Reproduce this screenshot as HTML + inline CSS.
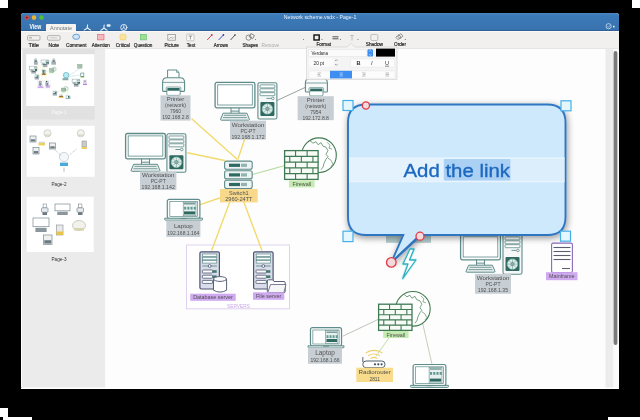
<!DOCTYPE html>
<html><head><meta charset="utf-8">
<style>
html,body{margin:0;padding:0;width:640px;height:420px;overflow:hidden;background:#000;}
svg{position:absolute;left:0;top:0;display:block;will-change:transform;}
text{font-family:"Liberation Sans",sans-serif;}
</style></head>
<body>
<svg width="640" height="420" viewBox="0 0 640 420">
<defs>
  <linearGradient id="tb" x1="0" y1="0" x2="0" y2="1">
    <stop offset="0" stop-color="#4a87c2"/><stop offset="0.15" stop-color="#3b7ab8"/><stop offset="1" stop-color="#3872ad"/>
  </linearGradient>
  <filter id="bshadow" x="-20%" y="-20%" width="140%" height="140%">
    <feGaussianBlur in="SourceAlpha" stdDeviation="3.5"/>
    <feOffset dx="0.5" dy="2"/>
    <feComponentTransfer><feFuncA type="linear" slope="0.42"/></feComponentTransfer>
    <feMerge><feMergeNode/><feMergeNode in="SourceGraphic"/></feMerge>
  </filter>
  <filter id="thumbdark" x="0" y="0" width="100%" height="100%">
    <feComponentTransfer><feFuncR type="gamma" exponent="1.8"/><feFuncG type="gamma" exponent="1.8"/><feFuncB type="gamma" exponent="1.8"/></feComponentTransfer>
  </filter>
</defs>
<!-- background -->
<rect x="0" y="0" width="640" height="420" fill="#000"/>
<rect x="0" y="0" width="8" height="8" fill="#fff"/>
<rect x="632" y="0" width="8" height="8" fill="#fff"/>
<rect x="0" y="408" width="8" height="9" fill="#fff"/>
<rect x="3" y="417" width="29" height="3" fill="#fff"/>
<rect x="608" y="417" width="32" height="3" fill="#fff"/>

<!-- window -->
<rect x="21" y="13" width="598" height="376" rx="3" fill="#fff"/>
<!-- title bar -->
<path d="M21 16 Q21 13 24 13 L616 13 Q619 13 619 16 L619 31 L21 31 Z" fill="url(#tb)"/>
<rect x="21" y="30" width="598" height="1" fill="#2f6297"/>
<!-- toolbar -->
<rect x="21" y="31" width="598" height="18" fill="#f1f0ee"/>
<rect x="21" y="31" width="598" height="1" fill="#fbfaf8"/>
<rect x="21" y="48.5" width="598" height="0.8" fill="#dddcda"/>
<!-- sidebar -->
<rect x="22" y="49" width="83.5" height="339" fill="#ebebeb"/>
<!-- canvas -->
<rect x="105.4" y="49" width="500.6" height="339" fill="#fdfdfd"/>
<rect x="605.5" y="49" width="8" height="339" fill="#ececec"/>
<rect x="613.5" y="49" width="5" height="339" fill="#fafafa"/>
<rect x="613.6" y="51" width="3.8" height="294" rx="1.9" fill="#7a7a7a"/>
<rect x="21" y="387.5" width="598" height="1.5" fill="#fff"/>


<!-- sidebar thumbnails -->
<rect x="22.7" y="49" width="72" height="70.5" fill="#e1e1e1"/>
<rect x="26.3" y="54.3" width="68" height="51.7" fill="#fff"/>
<text x="51.5" y="114.2" font-size="5" fill="#fafafa" textLength="15" lengthAdjust="spacingAndGlyphs">Page-1</text>
<rect x="26.7" y="125.8" width="68" height="51" fill="#fff"/>
<text x="51.5" y="186" font-size="5" fill="#333" textLength="15" lengthAdjust="spacingAndGlyphs">Page-2</text>
<rect x="26.7" y="196.7" width="67" height="55.3" fill="#fff"/>
<text x="51.5" y="260.6" font-size="5" fill="#333" textLength="15" lengthAdjust="spacingAndGlyphs">Page-3</text>
<svg x="26.3" y="54.3" width="68" height="51.7" viewBox="0 0 68 51.7" overflow="hidden"><g filter="url(#thumbdark)"><rect width="68" height="51.7" fill="#fff"/><use href="#diag" transform="translate(-12.74,-4.9) scale(0.127)"/></g></svg>
<rect x="30" y="136" width="6" height="6" fill="#eef0f2" stroke="#7d8a90" stroke-width="0.7"/><rect x="30.80" y="139.30" width="4.40" height="2.10" fill="#6c7a80"/>
<rect x="33" y="147.5" width="6" height="6.5" fill="#eef0f2" stroke="#7d8a90" stroke-width="0.7"/><rect x="33.80" y="151.07" width="4.40" height="2.27" fill="#6c7a80"/>
<rect x="49.5" y="143" width="6" height="6" fill="#eef0f2" stroke="#7d8a90" stroke-width="0.7"/><rect x="50.30" y="146.30" width="4.40" height="2.10" fill="#6c7a80"/>
<rect x="38.5" y="143" width="6.5" height="2.4" fill="#efcf60"/><path d="M38.5 142.3 L45 142.3" stroke="#999" stroke-width="0.5"/>
<circle cx="47.5" cy="133.3" r="3.6" fill="#f2f2ee" stroke="#c4c4bc" stroke-width="0.7"/><path d="M44.98 135.10 L50.02 135.10" stroke="#b8b090" stroke-width="0.6"/>
<circle cx="80.8" cy="133.3" r="3.6" fill="#f2f2ee" stroke="#c4c4bc" stroke-width="0.7"/><path d="M78.28 135.10 L83.32 135.10" stroke="#b8b090" stroke-width="0.6"/>
<rect x="82" y="141" width="4.4" height="6" fill="#c8cccc" stroke="#8a8a8a" stroke-width="0.5"/><rect x="81.5" y="147" width="5.4" height="2" fill="#efcf60"/>
<circle cx="64" cy="157" r="4.6" fill="#f4f6f8" stroke="#b8c4cc" stroke-width="0.7"/><rect x="60" y="162.6" width="8" height="3.4" fill="#4aa8dc"/><path d="M64 167.5 L64 172" stroke="#8a9aa0" stroke-width="0.6"/>
<path d="M55 150 L61 155.5 M76.5 149 L69.5 155" stroke="#8a969c" stroke-width="0.6" stroke-dasharray="1 0.8" fill="none"/>
<rect x="43.12" y="204" width="3.25" height="3.85" fill="#fff" stroke="#7d8a90" stroke-width="0.6"/><rect x="41.5" y="207.85" width="6.5" height="4.40" rx="0.8" fill="#e8ecee" stroke="#7d8a90" stroke-width="0.7"/><rect x="42.48" y="212.25" width="4.55" height="2.75" fill="#6c7a80"/>
<rect x="55" y="204" width="15" height="6.82" fill="#fff" stroke="#7d8a90" stroke-width="0.7"/><rect x="57.25" y="211.70" width="10.50" height="3.30" fill="#8a969c"/>
<rect x="78.62" y="204" width="3.25" height="3.85" fill="#fff" stroke="#7d8a90" stroke-width="0.6"/><rect x="77" y="207.85" width="6.5" height="4.40" rx="0.8" fill="#e8ecee" stroke="#7d8a90" stroke-width="0.7"/><rect x="77.97" y="212.25" width="4.55" height="2.75" fill="#6c7a80"/>
<rect x="33" y="218" width="16" height="8.68" fill="#fff" stroke="#7d8a90" stroke-width="0.7"/><rect x="35.40" y="227.80" width="11.20" height="4.20" fill="#8a969c"/>
<rect x="56.5" y="225" width="6.5" height="10" fill="#e8eaec" stroke="#8a8a8a" stroke-width="0.6"/><rect x="56.5" y="231.5" width="6.5" height="3.5" fill="#e8c448"/>
<ellipse cx="79" cy="225.5" rx="6.5" ry="5" fill="#f2f2ec" stroke="#c0c0b4" stroke-width="0.8"/><rect x="74" y="228" width="10" height="2.5" fill="#d8d4b0"/>
<rect x="43.5" y="235" width="8.5" height="9.5" fill="#eef0f2" stroke="#7d8a90" stroke-width="0.7"/><rect x="44.30" y="240.22" width="6.90" height="3.32" fill="#6c7a80"/>
<!-- traffic lights -->
<circle cx="26.8" cy="17.6" r="2.3" fill="#d8483f"/>
<circle cx="26.8" cy="17.6" r="0.9" fill="#7a1410"/>
<circle cx="34" cy="17.6" r="2.3" fill="#e9b52c"/>
<circle cx="41.6" cy="17.6" r="2.3" fill="#4cbf3c"/>
<!-- tabs -->
<text x="29.6" y="29" font-size="6.6" font-weight="bold" fill="#fff" textLength="11.6" lengthAdjust="spacingAndGlyphs">View</text>
<path d="M46 31 L46 25 Q46 24 47 24 L75 24 Q76 24 76 25 L76 31 Z" fill="#f6f3ee"/>
<text x="50" y="29.6" font-size="5.6" fill="#6f7a86" textLength="22" lengthAdjust="spacingAndGlyphs">Annotate</text>
<!-- acrobat-like icons -->
<g stroke="#e6f0fa" stroke-width="1.1" fill="none" stroke-linecap="round">
  <path d="M87.4 27.6 Q87.2 25.8 87.6 24.9 M87.4 27.6 Q85.6 29.6 84.2 30 M87.4 27.6 Q89.2 29.6 90.6 30"/>
  <path d="M104 27.8 Q103.8 26 104.2 25.1 M104 27.8 Q102.2 29.8 100.8 30.2 M104 27.8 Q105.8 29.8 107.2 30.2"/>
  <circle cx="123.8" cy="27.5" r="3.1" stroke-width="0.9"/>
  <path d="M123.8 27.6 L123.8 25.4 M123.8 27.6 L121.9 29.2 M123.8 27.6 L125.7 29.2" stroke-width="0.8"/>
</g>
<rect x="106.6" y="24.3" width="4" height="2.4" rx="1" fill="#e6f0fa"/>
<text x="283.8" y="19.2" font-size="5.3" fill="#eef4fa" textLength="72.5" lengthAdjust="spacingAndGlyphs">Network scheme.vsdx - Page-1</text>
<circle cx="608.6" cy="26.2" r="2.6" fill="none" stroke="#cfe0f2" stroke-width="0.8"/>
<path d="M607.4 26.5 L608.4 27.4 L610 25.3" fill="none" stroke="#cfe0f2" stroke-width="0.6"/>
<rect x="613" y="25.8" width="1.6" height="1.6" fill="#eef4fa"/>

<!-- toolbar icons -->
<g fill="none" stroke="#9a9a9a" stroke-width="0.7">
  <rect x="27.5" y="35.6" width="12.5" height="4.6" rx="1"/>
  <rect x="47.6" y="35.6" width="12.5" height="4.6" rx="1"/>
</g>
<rect x="29" y="37" width="3" height="1.5" fill="#b8b8b8"/>
<rect x="50" y="37.3" width="7" height="1" fill="#c8c8c8"/>
<ellipse cx="76.2" cy="36.8" rx="3.5" ry="2.6" fill="#cfe5f7" stroke="#4a90d0" stroke-width="0.8"/>
<rect x="97.5" y="34.3" width="6.5" height="5.6" fill="#f2b9c0" stroke="#e06070" stroke-width="0.6"/>
<rect x="120" y="34.3" width="6" height="5.6" rx="1.5" fill="#f9e5a0" stroke="#f0c850" stroke-width="0.6"/>
<rect x="140.3" y="34.3" width="6" height="5.6" fill="#9ee09a" stroke="#5cc060" stroke-width="0.6"/>
<rect x="167.8" y="34.6" width="7.7" height="5.6" fill="#f4f4f4" stroke="#8a8a8a" stroke-width="0.7"/>
<path d="M168.5 39.5 L171 37 L173 38.5 L175 36.5" fill="none" stroke="#8a8a8a" stroke-width="0.6"/>
<rect x="186.7" y="34.2" width="7.3" height="6.6" rx="0.8" fill="#fbfbfb" stroke="#a8a8a8" stroke-width="0.6"/>
<path d="M188.6 36 L192.2 36 M190.4 36 L190.4 39.5" stroke="#707070" stroke-width="0.7"/>
<path d="M207.2 40 L211.8 35" stroke="#d03050" stroke-width="0.9"/><circle cx="211.8" cy="35" r="0.9" fill="#d03050"/>
<path d="M218.6 40 L223.4 35" stroke="#3840c0" stroke-width="0.9"/><circle cx="223.4" cy="35" r="0.9" fill="#3840c0"/>
<path d="M230.5 40 L235 35" stroke="#333" stroke-width="0.8"/><circle cx="235" cy="35" r="0.8" fill="#333"/>
<g fill="none" stroke="#666" stroke-width="0.7">
  <circle cx="248.6" cy="37.6" r="2.6"/>
  <rect x="249.8" y="34.3" width="4" height="3.6" transform="rotate(30 251.8 36.1)"/>
</g>
<g fill="#555">
  <circle cx="255.6" cy="39.6" r="0.5"/><circle cx="303.6" cy="39.6" r="0.5"/><circle cx="322" cy="39.6" r="0.5"/>
  <circle cx="340.5" cy="39.6" r="0.5"/><circle cx="358" cy="39.6" r="0.5"/><circle cx="405.3" cy="39.6" r="0.5"/>
</g>
<rect x="314" y="35" width="5.2" height="5" fill="none" stroke="#111" stroke-width="1.4"/>
<path d="M332.5 36.8 L338.5 36.8 M332.5 38.8 L338.5 38.8" stroke="#555" stroke-width="1"/>
<path d="M350.3 35.5 L353.7 35.5 M352 35.5 L352 40.5" stroke="#b0b0b0" stroke-width="0.8"/>
<rect x="370.8" y="34.5" width="7" height="6" rx="1.2" fill="none" stroke="#a0a0a0" stroke-width="0.6"/>
<g fill="none" stroke="#777" stroke-width="0.7">
  <rect x="396.4" y="35.6" width="4" height="3.2" transform="rotate(-40 398.4 37.2)"/>
  <rect x="398.4" y="34.6" width="4" height="3.2" transform="rotate(-40 400.4 36.2)"/>
</g>
<g font-size="4.9" fill="#1e1e1e" stroke="#1e1e1e" stroke-width="0.18">
  <text x="28.5" y="46.5" textLength="10.5" lengthAdjust="spacingAndGlyphs">Title</text>
  <text x="48.6" y="46.5" textLength="10.5" lengthAdjust="spacingAndGlyphs">Note</text>
  <text x="66" y="46.5" textLength="20.5" lengthAdjust="spacingAndGlyphs">Comment</text>
  <text x="91.8" y="46.5" textLength="18" lengthAdjust="spacingAndGlyphs">Attention</text>
  <text x="115.8" y="46.5" textLength="14" lengthAdjust="spacingAndGlyphs">Critical</text>
  <text x="133.8" y="46.5" textLength="18.5" lengthAdjust="spacingAndGlyphs">Question</text>
  <text x="164.4" y="46.5" textLength="14.6" lengthAdjust="spacingAndGlyphs">Picture</text>
  <text x="186.8" y="46.5" textLength="8.5" lengthAdjust="spacingAndGlyphs">Text</text>
  <text x="213.8" y="46.5" textLength="14.2" lengthAdjust="spacingAndGlyphs">Arrows</text>
  <text x="242.6" y="46.5" textLength="15.4" lengthAdjust="spacingAndGlyphs">Shapes</text>
  <text x="261.5" y="46.5" textLength="17.7" fill="#a8a8a8" stroke="none" lengthAdjust="spacingAndGlyphs">Remove</text>
  <text x="316.5" y="46.3" textLength="14.5" lengthAdjust="spacingAndGlyphs">Format</text>
  <text x="365.8" y="46.3" textLength="17.2" lengthAdjust="spacingAndGlyphs">Shadow</text>
  <text x="394" y="46.3" textLength="12" lengthAdjust="spacingAndGlyphs">Order</text>
</g>


<g id="diag">
<rect x="186.5" y="245" width="103" height="63.8" fill="#fff" stroke="#e0d2ee" stroke-width="1"/>
<g id="lines" fill="none" stroke-linecap="round">
<path d="M192 119 L236.8 159" stroke="#f2da6e" stroke-width="1.4"/>
<path d="M244.5 139.5 L238 159" stroke="#f2da6e" stroke-width="1.4"/>
<path d="M187.5 152.8 L224.5 160.5" stroke="#f2da6e" stroke-width="1.4"/>
<path d="M199.5 204.8 L221 197.5" stroke="#f2da6e" stroke-width="1.4"/>
<path d="M229.6 202.5 L211.8 250" stroke="#f2da6e" stroke-width="1.4"/>
<path d="M244 202.5 L261.8 250" stroke="#f2da6e" stroke-width="1.4"/>
<path d="M252.5 174.5 L284 165.8" stroke="#b8dca0" stroke-width="1.1"/>
<path d="M277 100.5 L305 87.5" stroke="#707a7a" stroke-width="0.7"/>
<path d="M343.2 336 L378 319.5" stroke="#b0b8a8" stroke-width="0.8"/>
<path d="M389 338 L376 356" stroke="#b8dc98" stroke-width="0.9"/>
<path d="M422.5 322.5 L431.8 363.5" stroke="#b8c0a8" stroke-width="0.8"/>
</g>
<g transform="translate(162,69.4)">
<path d="M5.6 9 L5.6 0.6 L14.5 0.6 L17 3 L17 9" fill="#fff" stroke="#5f8c8a" stroke-width="1"/>
<path d="M14.5 0.6 L14.5 3 L17 3" fill="none" stroke="#5f8c8a" stroke-width="0.7"/>
<path d="M0.6 21.2 L0.6 13 Q0.6 8.4 5 8.4 L18 8.4 Q22.6 8.4 22.6 13 L22.6 21.2 Q22.6 22 21.8 22 L1.4 22 Q0.6 22 0.6 21.2 Z" fill="#f7f9f9" stroke="#5f8c8a" stroke-width="1.1"/>
<path d="M0.8 13 L22.4 13" stroke="#5f8c8a" stroke-width="0.8"/>
<rect x="4.2" y="17.6" width="14.6" height="4" rx="1" fill="#eaf2f1" stroke="#5f8c8a" stroke-width="0.7"/>
<rect x="5.4" y="18.6" width="12.2" height="2.6" fill="#2f6a62"/>
<path d="M5 21.5 Q4.2 25.8 5.8 26 L17.2 26 Q18.8 25.8 18 21.5" fill="#fff" stroke="#5f8c8a" stroke-width="0.9"/>
</g>
<rect x="160.5" y="95.4" width="30.00" height="25.20" fill="#c8cfd4"/>
<text x="175.5" y="101.40" font-size="6.0" fill="#505050" text-anchor="middle">Printer</text>
<text x="175.5" y="107.40" font-size="5.0" fill="#505050" text-anchor="middle">(network)</text>
<text x="175.5" y="113.40" font-size="5.0" fill="#505050" text-anchor="middle">7960</text>
<text x="175.5" y="119.40" font-size="5.0" fill="#505050" text-anchor="middle">192.168.2.8</text>
<g transform="translate(214.5,81.8)">
<rect x="0.6" y="0.6" width="39.8" height="25.4" rx="1.8" fill="#fbfcfc" stroke="#5f8c8a" stroke-width="1.3"/>
<rect x="3.2" y="3" width="34.6" height="20.2" fill="#fff" stroke="#5f8c8a" stroke-width="0.8"/>
<path d="M16.5 26 L16.5 31.2 M24.5 26 L24.5 31.2" stroke="#5f8c8a" stroke-width="1"/>
<rect x="16.5" y="28.8" width="8" height="1" fill="#5f8c8a"/>
<path d="M8.6 31.4 L32.4 31.4 L35 37.6 Q35 38.4 34 38.4 L7 38.4 Q6 38.4 6 37.6 Z" fill="#e8eeee" stroke="#5f8c8a" stroke-width="1"/>
<path d="M9.5 33.5 L31.5 33.5 M8.5 35.8 L32.5 35.8" stroke="#5f8c8a" stroke-width="0.8"/>
<rect x="43.4" y="0.9" width="19" height="36.3" rx="1.6" fill="#f6f8f8" stroke="#5f8c8a" stroke-width="1.1"/>
<rect x="45.5" y="3.10" width="14.8" height="3" rx="0.6" fill="#fff" stroke="#5f8c8a" stroke-width="0.8"/>
<rect x="45.5" y="7.00" width="14.8" height="3" rx="0.6" fill="#fff" stroke="#5f8c8a" stroke-width="0.8"/>
<rect x="45.5" y="10.90" width="14.8" height="3" rx="0.6" fill="#fff" stroke="#5f8c8a" stroke-width="0.8"/>
<path d="M51.9 16.6 L56.9 16.6" stroke="#5f8c8a" stroke-width="0.9"/>
<circle cx="58.3" cy="16.6" r="1.3" fill="none" stroke="#5f8c8a" stroke-width="0.8"/>
<rect x="45.9" y="20.099999999999998" width="14" height="14" rx="1" fill="#2f6a62"/>
<circle cx="52.9" cy="27.099999999999998" r="5.2" fill="#dfeeea" stroke="#9cc4bc" stroke-width="0.6"/>
<circle cx="52.9" cy="27.099999999999998" r="1.6" fill="#fff" stroke="#2f6a62" stroke-width="0.6"/>
<path d="M52.9 22.099999999999998 L52.9 32.099999999999994 M47.9 27.099999999999998 L57.9 27.099999999999998 M49.4 23.599999999999998 L56.4 30.599999999999998 M56.4 23.599999999999998 L49.4 30.599999999999998" stroke="#2f6a62" stroke-width="0.5" opacity="0.7"/>
</g>
<rect x="230" y="120.7" width="36.00" height="18.90" fill="#c8cfd4"/>
<text x="248.0" y="126.60" font-size="6.2" fill="#505050" text-anchor="middle">Workstation</text>
<text x="248.0" y="132.60" font-size="5.0" fill="#505050" text-anchor="middle">PC-PT</text>
<text x="248.0" y="138.60" font-size="5.2" fill="#505050" text-anchor="middle">192.168.1.172</text>
<g transform="translate(304.8,70)">
<path d="M5.6 9 L5.6 0.6 L14.5 0.6 L17 3 L17 9" fill="#fff" stroke="#5f8c8a" stroke-width="1"/>
<path d="M14.5 0.6 L14.5 3 L17 3" fill="none" stroke="#5f8c8a" stroke-width="0.7"/>
<path d="M0.6 21.2 L0.6 13 Q0.6 8.4 5 8.4 L18 8.4 Q22.6 8.4 22.6 13 L22.6 21.2 Q22.6 22 21.8 22 L1.4 22 Q0.6 22 0.6 21.2 Z" fill="#f7f9f9" stroke="#5f8c8a" stroke-width="1.1"/>
<path d="M0.8 13 L22.4 13" stroke="#5f8c8a" stroke-width="0.8"/>
<rect x="4.2" y="17.6" width="14.6" height="4" rx="1" fill="#eaf2f1" stroke="#5f8c8a" stroke-width="0.7"/>
<rect x="5.4" y="18.6" width="12.2" height="2.6" fill="#2f6a62"/>
<path d="M5 21.5 Q4.2 25.8 5.8 26 L17.2 26 Q18.8 25.8 18 21.5" fill="#fff" stroke="#5f8c8a" stroke-width="0.9"/>
</g>
<rect x="297.6" y="96.2" width="36.20" height="24.00" fill="#c8cfd4"/>
<text x="315.70000000000005" y="102.00" font-size="6.0" fill="#505050" text-anchor="middle">Printer</text>
<text x="315.70000000000005" y="108.00" font-size="5.0" fill="#505050" text-anchor="middle">(network)</text>
<text x="315.70000000000005" y="114.00" font-size="5.0" fill="#505050" text-anchor="middle">7954</text>
<text x="315.70000000000005" y="120.00" font-size="5.0" fill="#505050" text-anchor="middle">192.172.8.8</text>
<g transform="translate(125,132.9)">
<rect x="0.6" y="0.6" width="39.8" height="25.4" rx="1.8" fill="#fbfcfc" stroke="#5f8c8a" stroke-width="1.3"/>
<rect x="3.2" y="3" width="34.6" height="20.2" fill="#fff" stroke="#5f8c8a" stroke-width="0.8"/>
<path d="M16.5 26 L16.5 31.2 M24.5 26 L24.5 31.2" stroke="#5f8c8a" stroke-width="1"/>
<rect x="16.5" y="28.8" width="8" height="1" fill="#5f8c8a"/>
<path d="M8.6 31.4 L32.4 31.4 L35 37.6 Q35 38.4 34 38.4 L7 38.4 Q6 38.4 6 37.6 Z" fill="#e8eeee" stroke="#5f8c8a" stroke-width="1"/>
<path d="M9.5 33.5 L31.5 33.5 M8.5 35.8 L32.5 35.8" stroke="#5f8c8a" stroke-width="0.8"/>
<rect x="41.9" y="0.9" width="19" height="38.5" rx="1.6" fill="#f6f8f8" stroke="#5f8c8a" stroke-width="1.1"/>
<rect x="44.0" y="3.10" width="14.8" height="3" rx="0.6" fill="#fff" stroke="#5f8c8a" stroke-width="0.8"/>
<rect x="44.0" y="7.00" width="14.8" height="3" rx="0.6" fill="#fff" stroke="#5f8c8a" stroke-width="0.8"/>
<rect x="44.0" y="10.90" width="14.8" height="3" rx="0.6" fill="#fff" stroke="#5f8c8a" stroke-width="0.8"/>
<path d="M50.4 16.6 L55.4 16.6" stroke="#5f8c8a" stroke-width="0.9"/>
<circle cx="56.8" cy="16.6" r="1.3" fill="none" stroke="#5f8c8a" stroke-width="0.8"/>
<rect x="44.4" y="22.3" width="14" height="14" rx="1" fill="#2f6a62"/>
<circle cx="51.4" cy="29.3" r="5.2" fill="#dfeeea" stroke="#9cc4bc" stroke-width="0.6"/>
<circle cx="51.4" cy="29.3" r="1.6" fill="#fff" stroke="#2f6a62" stroke-width="0.6"/>
<path d="M51.4 24.3 L51.4 34.3 M46.4 29.3 L56.4 29.3 M47.9 25.8 L54.9 32.8 M54.9 25.8 L47.9 32.8" stroke="#2f6a62" stroke-width="0.5" opacity="0.7"/>
</g>
<rect x="140" y="171.4" width="36.40" height="18.60" fill="#c8cfd4"/>
<text x="158.2" y="177.20" font-size="6.2" fill="#505050" text-anchor="middle">Workstation</text>
<text x="158.2" y="183.20" font-size="5.0" fill="#505050" text-anchor="middle">PC-PT</text>
<text x="158.2" y="189.20" font-size="5.2" fill="#505050" text-anchor="middle">192.168.1.142</text>
<g transform="translate(164.2,198.6)">
<rect x="3.10" y="0.7" width="32.59" height="19.20" rx="2" fill="#fbfcfc" stroke="#5f8c8a" stroke-width="1.2"/>
<rect x="5.63" y="3" width="27.55" height="14.80" fill="#fff" stroke="#5f8c8a" stroke-width="0.7"/>
<rect x="19.01" y="3.6" width="12.80" height="13.60" fill="#e8f0ef" stroke="#5f8c8a" stroke-width="0.6"/>
<rect x="19.81" y="4.6" width="11.20" height="1.2" fill="#5f8c8a"/>
<rect x="19.91" y="8.2" width="2.10" height="2.8" fill="#5f9a92"/>
<rect x="23.11" y="8.2" width="2.10" height="2.8" fill="#5f9a92"/>
<rect x="26.31" y="8.2" width="2.10" height="2.8" fill="#5f9a92"/>
<rect x="29.51" y="8.2" width="2.10" height="2.8" fill="#5f9a92"/>
<rect x="19.81" y="12.80" width="11.20" height="3" fill="#2f6a62"/>
<path d="M0.5 19.60 L38.30 19.60 L38.30 20.80 Q38.30 21.60 37.30 21.60 L1.5 21.60 Q0.5 21.60 0.5 20.80 Z" fill="#e4ecec" stroke="#5f8c8a" stroke-width="1"/>
<rect x="16.30" y="19.40" width="6.21" height="1" fill="#5f8c8a"/>
</g>
<rect x="166.3" y="220.6" width="34.10" height="16.40" fill="#c8cfd4"/>
<text x="183.35000000000002" y="227.60" font-size="6.2" fill="#505050" text-anchor="middle">Laptop</text>
<text x="183.35000000000002" y="234.60" font-size="5.0" fill="#505050" text-anchor="middle">192.168.1.164</text>
<g transform="translate(224,160.5)">
<rect x="0.6" y="0.60" width="27.6" height="8.2" rx="2" fill="#eef3f3" stroke="#5f8c8a" stroke-width="1.1"/>
<rect x="5" y="3.20" width="11" height="3.2" fill="#2f6a62"/>
<rect x="17" y="3.20" width="6" height="3.2" fill="#8fb5b0"/>
<rect x="0.6" y="10.20" width="27.6" height="8.2" rx="2" fill="#eef3f3" stroke="#5f8c8a" stroke-width="1.1"/>
<rect x="5" y="12.80" width="11" height="3.2" fill="#2f6a62"/>
<rect x="17" y="12.80" width="6" height="3.2" fill="#8fb5b0"/>
<rect x="0.6" y="19.80" width="27.6" height="8.2" rx="2" fill="#eef3f3" stroke="#5f8c8a" stroke-width="1.1"/>
<rect x="5" y="22.40" width="11" height="3.2" fill="#2f6a62"/>
<rect x="17" y="22.40" width="6" height="3.2" fill="#8fb5b0"/>
</g>
<rect x="220" y="189" width="37.70" height="13.40" fill="#f8d98c"/>
<text x="238.85" y="194.80" font-size="5.6" fill="#505050" text-anchor="middle">Switch1</text>
<text x="238.85" y="200.80" font-size="5.6" fill="#505050" text-anchor="middle">2960-24TT</text>
<g transform="translate(284,150)">
<circle cx="35.0" cy="5.2" r="17.3" fill="#fff" stroke="#3f7a4e" stroke-width="1.1"/>
<path d="M26.0 -9.3 L29.0 -6.8 L32.0 -8.3 L34.0 -5.3 L37.0 -7.3 L39.0 -3.8 L42.0 -2.8 L44.0 0.7 L42.0 4.2 L44.0 6.7 L42.0 9.2 L40.0 13.2 L39.0 17.2 L37.0 19.7" fill="none" stroke="#3f7a4e" stroke-width="0.7"/>
<path d="M43.0 -7.8 L46.0 -4.8 L45.0 -1.8 L48.0 -0.8" fill="none" stroke="#3f7a4e" stroke-width="0.6"/>
<path d="M44.0 8.2 L47.0 10.2 L49.0 14.2 L47.0 16.2" fill="none" stroke="#3f7a4e" stroke-width="0.6"/>
<rect x="0.6" y="0.6" width="33.5" height="28.8" fill="#f7fbf6" stroke="#3f7a55" stroke-width="1.3"/>
<path d="M0.6 6.36 L34.1 6.36" stroke="#3f7a55" stroke-width="1.1"/>
<path d="M0.6 12.12 L34.1 12.12" stroke="#3f7a55" stroke-width="1.1"/>
<path d="M0.6 17.88 L34.1 17.88" stroke="#3f7a55" stroke-width="1.1"/>
<path d="M0.6 23.64 L34.1 23.64" stroke="#3f7a55" stroke-width="1.1"/>
<path d="M11.57 0.60 L11.57 6.36" stroke="#3f7a55" stroke-width="1.1"/>
<path d="M23.13 0.60 L23.13 6.36" stroke="#3f7a55" stroke-width="1.1"/>
<path d="M5.78 6.36 L5.78 12.12" stroke="#3f7a55" stroke-width="1.1"/>
<path d="M17.35 6.36 L17.35 12.12" stroke="#3f7a55" stroke-width="1.1"/>
<path d="M28.92 6.36 L28.92 12.12" stroke="#3f7a55" stroke-width="1.1"/>
<path d="M11.57 12.12 L11.57 17.88" stroke="#3f7a55" stroke-width="1.1"/>
<path d="M23.13 12.12 L23.13 17.88" stroke="#3f7a55" stroke-width="1.1"/>
<path d="M5.78 17.88 L5.78 23.64" stroke="#3f7a55" stroke-width="1.1"/>
<path d="M17.35 17.88 L17.35 23.64" stroke="#3f7a55" stroke-width="1.1"/>
<path d="M28.92 17.88 L28.92 23.64" stroke="#3f7a55" stroke-width="1.1"/>
<path d="M11.57 23.64 L11.57 29.40" stroke="#3f7a55" stroke-width="1.1"/>
<path d="M23.13 23.64 L23.13 29.40" stroke="#3f7a55" stroke-width="1.1"/>
</g>
<rect x="289" y="180.4" width="25.60" height="7.00" fill="#c4ecb0"/>
<text x="301.8" y="186.00" font-size="5.4" fill="#505050" text-anchor="middle">Firewall</text>
<g transform="translate(199.3,251.2)">
<rect x="0.6" y="0.6" width="19.5" height="37.199999999999996" rx="1.5" fill="#d9dde9" stroke="#4e5472" stroke-width="1.2"/>
<rect x="3.2" y="2.80" width="14.30" height="2.5" fill="#fafcfc" stroke="#5f8c8a" stroke-width="0.7"/>
<rect x="3.2" y="6.10" width="14.30" height="2.5" fill="#fafcfc" stroke="#5f8c8a" stroke-width="0.7"/>
<rect x="3.2" y="9.40" width="14.30" height="2.5" fill="#fafcfc" stroke="#5f8c8a" stroke-width="0.7"/>
<path d="M3 14.8 L17.7 14.8" stroke="#5f8c8a" stroke-width="0.9"/><circle cx="10.35" cy="14.8" r="1.4" fill="#fff" stroke="#4e5472" stroke-width="0.8"/>
<rect x="3" y="18.8" width="10.35" height="3" rx="0.8" fill="#fff" stroke="#4e5472" stroke-width="0.8"/>
<rect x="13.25" y="19.0" width="4.14" height="2.6" fill="#3f7a70"/>
<rect x="3" y="24.0" width="10.35" height="3" rx="0.8" fill="#fff" stroke="#4e5472" stroke-width="0.8"/>
<rect x="13.25" y="24.2" width="4.14" height="2.6" fill="#3f7a70"/>
<rect x="3" y="29.200000000000003" width="10.35" height="3" rx="0.8" fill="#fff" stroke="#4e5472" stroke-width="0.8"/>
<rect x="13.25" y="29.400000000000002" width="4.14" height="2.6" fill="#3f7a70"/>
</g>
<path d="M213.5 279 L213.5 290.2 Q220 294 226.6 290.2 L226.6 279" fill="#fff" stroke="#5c6078" stroke-width="1"/>
<ellipse cx="220" cy="279" rx="6.5" ry="2.4" fill="#fff" stroke="#5c6078" stroke-width="1"/>
<g transform="translate(253,251.2)">
<rect x="0.6" y="0.6" width="19.5" height="37.199999999999996" rx="1.5" fill="#d9dde9" stroke="#4e5472" stroke-width="1.2"/>
<rect x="3.2" y="2.80" width="14.30" height="2.5" fill="#fafcfc" stroke="#5f8c8a" stroke-width="0.7"/>
<rect x="3.2" y="6.10" width="14.30" height="2.5" fill="#fafcfc" stroke="#5f8c8a" stroke-width="0.7"/>
<rect x="3.2" y="9.40" width="14.30" height="2.5" fill="#fafcfc" stroke="#5f8c8a" stroke-width="0.7"/>
<path d="M3 14.8 L17.7 14.8" stroke="#5f8c8a" stroke-width="0.9"/><circle cx="10.35" cy="14.8" r="1.4" fill="#fff" stroke="#4e5472" stroke-width="0.8"/>
<rect x="3" y="18.8" width="10.35" height="3" rx="0.8" fill="#fff" stroke="#4e5472" stroke-width="0.8"/>
<rect x="13.25" y="19.0" width="4.14" height="2.6" fill="#3f7a70"/>
<rect x="3" y="24.0" width="10.35" height="3" rx="0.8" fill="#fff" stroke="#4e5472" stroke-width="0.8"/>
<rect x="13.25" y="24.2" width="4.14" height="2.6" fill="#3f7a70"/>
<rect x="3" y="29.200000000000003" width="10.35" height="3" rx="0.8" fill="#fff" stroke="#4e5472" stroke-width="0.8"/>
<rect x="13.25" y="29.400000000000002" width="4.14" height="2.6" fill="#3f7a70"/>
</g>
<path d="M267.3 283 L267.3 281 Q267.3 279.8 268.5 279.8 L272.5 279.8 L274 281.5 L284 281.5 Q285.2 281.5 285.2 282.8 L285.2 291.6 Q285.2 292.7 284 292.7 L268.5 292.7 Q267.3 292.7 267.3 291.6 Z" fill="#fff" stroke="#5c6078" stroke-width="1"/>
<path d="M268 292 L270.5 284.5 L286 284.5 L284 292" fill="#f4f6f8" stroke="#5c6078" stroke-width="0.8"/>
<rect x="190.2" y="293.7" width="45.50" height="7.10" fill="#d0aaf0"/>
<text x="212.95" y="299.40" font-size="5.4" fill="#505050" text-anchor="middle">Database server</text>
<rect x="253" y="292.3" width="31.30" height="7.50" fill="#d0aaf0"/>
<text x="268.65" y="298.20" font-size="5.4" fill="#505050" text-anchor="middle">File server</text>
<text x="238.5" y="308" font-size="4.8" fill="#c8a8e8" text-anchor="middle">SERVERS</text>
<g transform="translate(460,233.8)">
<rect x="0.6" y="0.6" width="39.8" height="25.4" rx="1.8" fill="#fbfcfc" stroke="#5f8c8a" stroke-width="1.3"/>
<rect x="3.2" y="3" width="34.6" height="20.2" fill="#fff" stroke="#5f8c8a" stroke-width="0.8"/>
<path d="M16.5 26 L16.5 31.2 M24.5 26 L24.5 31.2" stroke="#5f8c8a" stroke-width="1"/>
<rect x="16.5" y="28.8" width="8" height="1" fill="#5f8c8a"/>
<path d="M8.6 31.4 L32.4 31.4 L35 37.6 Q35 38.4 34 38.4 L7 38.4 Q6 38.4 6 37.6 Z" fill="#e8eeee" stroke="#5f8c8a" stroke-width="1"/>
<path d="M9.5 33.5 L31.5 33.5 M8.5 35.8 L32.5 35.8" stroke="#5f8c8a" stroke-width="0.8"/>
<rect x="43.0" y="0.9" width="19" height="39.5" rx="1.6" fill="#f6f8f8" stroke="#5f8c8a" stroke-width="1.1"/>
<rect x="45.1" y="3.10" width="14.8" height="3" rx="0.6" fill="#fff" stroke="#5f8c8a" stroke-width="0.8"/>
<rect x="45.1" y="7.00" width="14.8" height="3" rx="0.6" fill="#fff" stroke="#5f8c8a" stroke-width="0.8"/>
<rect x="45.1" y="10.90" width="14.8" height="3" rx="0.6" fill="#fff" stroke="#5f8c8a" stroke-width="0.8"/>
<path d="M51.5 16.6 L56.5 16.6" stroke="#5f8c8a" stroke-width="0.9"/>
<circle cx="57.9" cy="16.6" r="1.3" fill="none" stroke="#5f8c8a" stroke-width="0.8"/>
<rect x="45.5" y="23.3" width="14" height="14" rx="1" fill="#2f6a62"/>
<circle cx="52.5" cy="30.3" r="5.2" fill="#dfeeea" stroke="#9cc4bc" stroke-width="0.6"/>
<circle cx="52.5" cy="30.3" r="1.6" fill="#fff" stroke="#2f6a62" stroke-width="0.6"/>
<path d="M52.5 25.3 L52.5 35.3 M47.5 30.3 L57.5 30.3 M49.0 26.8 L56.0 33.8 M56.0 26.8 L49.0 33.8" stroke="#2f6a62" stroke-width="0.5" opacity="0.7"/>
</g>
<rect x="475" y="273.8" width="36.00" height="20.00" fill="#c8cfd4"/>
<text x="493.0" y="279.80" font-size="6.2" fill="#505050" text-anchor="middle">Workstation</text>
<text x="493.0" y="285.80" font-size="5.0" fill="#505050" text-anchor="middle">PC-PT</text>
<text x="493.0" y="291.80" font-size="5.2" fill="#505050" text-anchor="middle">192.168.1.35</text>
<g transform="translate(551,242.5)">
<rect x="0.6" y="0.6" width="20.8" height="29.4" rx="1.5" fill="#fff" stroke="#8a68b8" stroke-width="1.1"/>
<path d="M2.5 5 L19.5 5" stroke="#5c5c70" stroke-width="1.1"/>
<path d="M2.5 9 L19.5 9" stroke="#5c5c70" stroke-width="1.1"/>
<path d="M2.5 13 L19.5 13" stroke="#5c5c70" stroke-width="1.1"/>
<path d="M2.5 17 L19.5 17" stroke="#5c5c70" stroke-width="1.1"/>
<path d="M11 26 L19 26" stroke="#5c5c70" stroke-width="1"/>
</g>
<rect x="546" y="272.2" width="31.50" height="8.00" fill="#d0aaf0"/>
<text x="561.75" y="278.40" font-size="5.4" fill="#505050" text-anchor="middle">Mainframe</text>
<g transform="translate(378,303.6)">
<circle cx="34.9" cy="5.2" r="17.3" fill="#fff" stroke="#3f7a4e" stroke-width="1.1"/>
<path d="M25.9 -9.3 L28.9 -6.8 L31.9 -8.3 L33.9 -5.3 L36.9 -7.3 L38.9 -3.8 L41.9 -2.8 L43.9 0.7 L41.9 4.2 L43.9 6.7 L41.9 9.2 L39.9 13.2 L38.9 17.2 L36.9 19.7" fill="none" stroke="#3f7a4e" stroke-width="0.7"/>
<path d="M42.9 -7.8 L45.9 -4.8 L44.9 -1.8 L47.9 -0.8" fill="none" stroke="#3f7a4e" stroke-width="0.6"/>
<path d="M43.9 8.2 L46.9 10.2 L48.9 14.2 L46.9 16.2" fill="none" stroke="#3f7a4e" stroke-width="0.6"/>
<rect x="0.6" y="0.6" width="33.4" height="26.2" fill="#f7fbf6" stroke="#3f7a55" stroke-width="1.3"/>
<path d="M0.6 5.84 L34.0 5.84" stroke="#3f7a55" stroke-width="1.1"/>
<path d="M0.6 11.08 L34.0 11.08" stroke="#3f7a55" stroke-width="1.1"/>
<path d="M0.6 16.32 L34.0 16.32" stroke="#3f7a55" stroke-width="1.1"/>
<path d="M0.6 21.56 L34.0 21.56" stroke="#3f7a55" stroke-width="1.1"/>
<path d="M11.53 0.60 L11.53 5.84" stroke="#3f7a55" stroke-width="1.1"/>
<path d="M23.07 0.60 L23.07 5.84" stroke="#3f7a55" stroke-width="1.1"/>
<path d="M5.77 5.84 L5.77 11.08" stroke="#3f7a55" stroke-width="1.1"/>
<path d="M17.30 5.84 L17.30 11.08" stroke="#3f7a55" stroke-width="1.1"/>
<path d="M28.83 5.84 L28.83 11.08" stroke="#3f7a55" stroke-width="1.1"/>
<path d="M11.53 11.08 L11.53 16.32" stroke="#3f7a55" stroke-width="1.1"/>
<path d="M23.07 11.08 L23.07 16.32" stroke="#3f7a55" stroke-width="1.1"/>
<path d="M5.77 16.32 L5.77 21.56" stroke="#3f7a55" stroke-width="1.1"/>
<path d="M17.30 16.32 L17.30 21.56" stroke="#3f7a55" stroke-width="1.1"/>
<path d="M28.83 16.32 L28.83 21.56" stroke="#3f7a55" stroke-width="1.1"/>
<path d="M11.53 21.56 L11.53 26.80" stroke="#3f7a55" stroke-width="1.1"/>
<path d="M23.07 21.56 L23.07 26.80" stroke="#3f7a55" stroke-width="1.1"/>
</g>
<rect x="383.2" y="331" width="25.40" height="7.00" fill="#c4ecb0"/>
<text x="395.9" y="336.60" font-size="5.4" fill="#505050" text-anchor="middle">Firewall</text>
<g transform="translate(307.5,327)">
<rect x="2.96" y="0.7" width="31.08" height="18.40" rx="2" fill="#fbfcfc" stroke="#5f8c8a" stroke-width="1.2"/>
<rect x="5.36" y="3" width="26.27" height="14.00" fill="#fff" stroke="#5f8c8a" stroke-width="0.7"/>
<rect x="18.13" y="3.6" width="12.21" height="12.80" fill="#e8f0ef" stroke="#5f8c8a" stroke-width="0.6"/>
<rect x="18.93" y="4.6" width="10.61" height="1.2" fill="#5f8c8a"/>
<rect x="19.03" y="8.2" width="1.95" height="2.8" fill="#5f9a92"/>
<rect x="22.08" y="8.2" width="1.95" height="2.8" fill="#5f9a92"/>
<rect x="25.13" y="8.2" width="1.95" height="2.8" fill="#5f9a92"/>
<rect x="28.19" y="8.2" width="1.95" height="2.8" fill="#5f9a92"/>
<rect x="18.93" y="12.00" width="10.61" height="3" fill="#2f6a62"/>
<path d="M0.5 18.80 L36.50 18.80 L36.50 20.00 Q36.50 20.80 35.50 20.80 L1.5 20.80 Q0.5 20.80 0.5 20.00 Z" fill="#e4ecec" stroke="#5f8c8a" stroke-width="1"/>
<rect x="15.54" y="18.60" width="5.92" height="1" fill="#5f8c8a"/>
</g>
<rect x="308" y="347.5" width="34.00" height="16.30" fill="#c8cfd4"/>
<text x="325.0" y="354.60" font-size="6.4" fill="#505050" text-anchor="middle">Laptop</text>
<text x="325.0" y="361.60" font-size="5.0" fill="#505050" text-anchor="middle">192.168.1.66</text>
<g fill="none" stroke="#f2cf70" stroke-width="1.1" stroke-linecap="round">
<path d="M366 352.8 Q374 348 382 352.8"/><path d="M368.5 355.6 Q374 352.5 379.5 355.6"/><path d="M371 358.2 Q374 356.5 377 358.2"/>
</g>
<path d="M362.8 357 L362.8 362" stroke="#606870" stroke-width="1"/>
<rect x="362.8" y="361" width="22.2" height="6.7" rx="3.3" fill="#fff" stroke="#4f6068" stroke-width="1"/>
<circle cx="375" cy="364.3" r="1.1" fill="#3a5058"/><circle cx="378.3" cy="364.3" r="1.1" fill="#3a5058"/><circle cx="381.6" cy="364.3" r="1.1" fill="#3a5058"/>
<rect x="356.3" y="367.7" width="36.70" height="14.30" fill="#f8dc8c"/>
<text x="374.65" y="374.40" font-size="6.2" fill="#505050" text-anchor="middle">Radiorouter</text>
<text x="374.65" y="380.70" font-size="4.8" fill="#505050" text-anchor="middle">2811</text>
<g transform="translate(410,363.8)">
<rect x="3.12" y="0.7" width="32.76" height="21.20" rx="2" fill="#fbfcfc" stroke="#5f8c8a" stroke-width="1.2"/>
<rect x="5.65" y="3" width="27.69" height="16.80" fill="#fff" stroke="#5f8c8a" stroke-width="0.7"/>
<rect x="19.11" y="3.6" width="12.87" height="15.60" fill="#e8f0ef" stroke="#5f8c8a" stroke-width="0.6"/>
<rect x="19.91" y="4.6" width="11.27" height="1.2" fill="#5f8c8a"/>
<rect x="20.01" y="8.2" width="2.12" height="2.8" fill="#5f9a92"/>
<rect x="23.23" y="8.2" width="2.12" height="2.8" fill="#5f9a92"/>
<rect x="26.44" y="8.2" width="2.12" height="2.8" fill="#5f9a92"/>
<rect x="29.66" y="8.2" width="2.12" height="2.8" fill="#5f9a92"/>
<rect x="19.91" y="14.80" width="11.27" height="3" fill="#2f6a62"/>
<path d="M0.5 21.60 L38.50 21.60 L38.50 22.80 Q38.50 23.60 37.50 23.60 L1.5 23.60 Q0.5 23.60 0.5 22.80 Z" fill="#e4ecec" stroke="#5f8c8a" stroke-width="1"/>
<rect x="16.38" y="21.40" width="6.24" height="1" fill="#5f8c8a"/>
</g>
<path d="M430 210 L520 150 M440 215 L535 200" stroke="#b0d8d8" stroke-width="2" fill="none"/>
<circle cx="414" cy="203" r="22" fill="#d8f2f6" stroke="#50b8c8" stroke-width="3"/>
<rect x="386" y="226" width="45" height="16.8" fill="#b4cccc"/>
<g transform="translate(505,118)">
<rect x="0.6" y="0.6" width="33.5" height="28.8" fill="#f7fbf6" stroke="#3f7a55" stroke-width="1.3"/>
<path d="M0.6 6.36 L34.1 6.36" stroke="#3f7a55" stroke-width="1.1"/>
<path d="M0.6 12.12 L34.1 12.12" stroke="#3f7a55" stroke-width="1.1"/>
<path d="M0.6 17.88 L34.1 17.88" stroke="#3f7a55" stroke-width="1.1"/>
<path d="M0.6 23.64 L34.1 23.64" stroke="#3f7a55" stroke-width="1.1"/>
<path d="M11.57 0.60 L11.57 6.36" stroke="#3f7a55" stroke-width="1.1"/>
<path d="M23.13 0.60 L23.13 6.36" stroke="#3f7a55" stroke-width="1.1"/>
<path d="M5.78 6.36 L5.78 12.12" stroke="#3f7a55" stroke-width="1.1"/>
<path d="M17.35 6.36 L17.35 12.12" stroke="#3f7a55" stroke-width="1.1"/>
<path d="M28.92 6.36 L28.92 12.12" stroke="#3f7a55" stroke-width="1.1"/>
<path d="M11.57 12.12 L11.57 17.88" stroke="#3f7a55" stroke-width="1.1"/>
<path d="M23.13 12.12 L23.13 17.88" stroke="#3f7a55" stroke-width="1.1"/>
<path d="M5.78 17.88 L5.78 23.64" stroke="#3f7a55" stroke-width="1.1"/>
<path d="M17.35 17.88 L17.35 23.64" stroke="#3f7a55" stroke-width="1.1"/>
<path d="M28.92 17.88 L28.92 23.64" stroke="#3f7a55" stroke-width="1.1"/>
<path d="M11.57 23.64 L11.57 29.40" stroke="#3f7a55" stroke-width="1.1"/>
<path d="M23.13 23.64 L23.13 29.40" stroke="#3f7a55" stroke-width="1.1"/>
</g>
<rect x="530" y="186" width="24" height="26" fill="#fff" stroke="#5f8c8a" stroke-width="3"/>
<rect x="528" y="212" width="28" height="8" fill="#9bbf70"/>
</g>

<g filter="url(#bshadow)">
<path d="M366 104.5 L547.5 104.5 Q565.5 104.5 565.5 122.5 L565.5 217 Q565.5 235 547.5 235 L420 235 L391.3 262.4 L403.3 235 L366 235 Q348 235 348 217 L348 122.5 Q348 104.5 366 104.5 Z" fill="#cee9fc" stroke="#2f76c2" stroke-width="1.9"/>
</g>
<rect x="349" y="158" width="215.5" height="23.5" fill="#dcedfc"/>
<rect x="349" y="159" width="95" height="21.5" fill="#e4f2fd"/>
<path d="M349 158.2 L564.5 158.2 M349 181.5 L564.5 181.5" stroke="#e9f5fe" stroke-width="1.4"/>
<rect x="443.8" y="159.1" width="66.6" height="21.4" fill="#aad0f4"/>
<text x="403.5" y="177.4" font-size="18.8" fill="#1d68c0" stroke="#1d68c0" stroke-width="0.35" textLength="106.5" lengthAdjust="spacingAndGlyphs">Add the link</text>
<path d="M391.3 262.4 L420 236" stroke="#2f74c0" stroke-width="2"/>
<!-- handles -->
<g fill="#e4f6fe" stroke="#45b0e8" stroke-width="1.2">
<rect x="343" y="100.5" width="10" height="10"/>
<rect x="561" y="100.8" width="10" height="10"/>
<rect x="343" y="231.2" width="10" height="10.4"/>
<rect x="560.5" y="231.2" width="10" height="10"/>
</g>
<g fill="#f4d8dc" stroke="#e23a48" stroke-width="1.3">
<circle cx="365.9" cy="105.5" r="3.6"/>
<circle cx="420" cy="236.2" r="4"/>
<circle cx="391.3" cy="262.4" r="4.8"/>
</g>
<path d="M410 249 L403 264 L408 264 L402.8 278.5 L415.8 260 L409.5 260 L414 249 Z" fill="none" stroke="#8adce4" stroke-width="3" stroke-linejoin="round" opacity="0.45"/>
<path d="M410 249 L403 264 L408 264 L402.8 278.5 L415.8 260 L409.5 260 L414 249 Z" fill="#fff" stroke="#2fb0bc" stroke-width="1.3" stroke-linejoin="round"/>


<g>
<path d="M306.5 47 L347 47 L351 43.2 L355 47 L397 47 L397 79.5 L306.5 79.5 Z" fill="#f4f4f4" stroke="#cfcfcf" stroke-width="0.6"/>
<rect x="308.5" y="49.5" width="58.5" height="7" rx="1.2" fill="#fbfbfb" stroke="#d8d8d8" stroke-width="0.4"/>
<text x="311.5" y="55.2" font-size="5.3" fill="#222" textLength="16.5" lengthAdjust="spacingAndGlyphs">Verdana</text>
<rect x="367.5" y="49.2" width="5.5" height="7.4" rx="1.2" fill="#3d8ef0"/>
<path d="M369 51.6 L370.25 50.4 L371.5 51.6 M369 54.2 L370.25 55.4 L371.5 54.2" stroke="#fff" stroke-width="0.5" fill="none"/>
<rect x="376" y="48.6" width="19" height="8" fill="#000"/>
<rect x="309" y="58.6" width="24.5" height="8" rx="1" fill="#fbfbfb"/>
<text x="313.5" y="64.6" font-size="5.3" fill="#222" textLength="10.5" lengthAdjust="spacingAndGlyphs">20 pt</text>
<path d="M335 61 L336.3 59.7 L337.6 61 M335 64 L336.3 65.3 L337.6 64" stroke="#555" stroke-width="0.5" fill="none"/>
<rect x="350.5" y="58.8" width="44" height="8.4" rx="1.2" fill="#fcfcfc" stroke="#e0e0e0" stroke-width="0.4"/>
<text x="356.5" y="64.8" font-size="5.6" font-weight="bold" fill="#333">B</text>
<text x="371" y="64.8" font-size="5.6" font-style="italic" fill="#333">I</text>
<text x="385" y="64.8" font-size="5.6" fill="#333" text-decoration="underline">U</text>
<rect x="309" y="70.8" width="86" height="7.6" rx="1.2" fill="#fcfcfc" stroke="#e0e0e0" stroke-width="0.4"/>
<rect x="330" y="70.8" width="22" height="7.6" fill="#3d8ef0"/>
<g stroke="#777" stroke-width="0.45">
<path d="M317.5 73 L321 73 M317.5 74.5 L320 74.5 M317.5 76 L321 76"/>
<path d="M385.5 73 L389 73 M385.5 74.5 L389 74.5 M385.5 76 L389 76"/>
<path d="M362 73 L365.5 73 M363 74.5 L365.5 74.5 M362 76 L365.5 76"/>
</g>
<path d="M339.5 73 L343 73 M340 74.5 L342.5 74.5 M339.5 76 L343 76" stroke="#fff" stroke-width="0.45"/>
</g>

</svg>
</body></html>
